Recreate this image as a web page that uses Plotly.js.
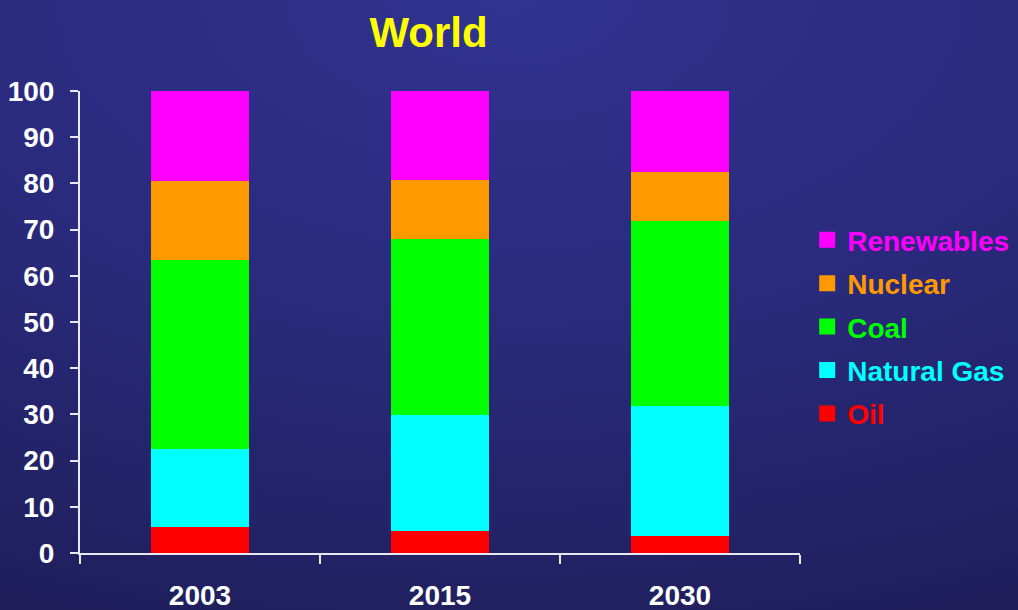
<!DOCTYPE html>
<html>
<head>
<meta charset="utf-8">
<script src="https://cdn.plot.ly/plotly-3.0.1.min.js"></script>
<style>
html, body { margin:0; padding:0; width:1018px; height:610px; overflow:hidden;
  background: radial-gradient(ellipse 120% 110% at 50% 0%, #30338f 0%, #2a2b7e 45%, #1f1e5a 100%); }
#chart { width:1018px; height:610px; }
</style>
</head>
<body>
<div id="chart"></div>
<script>
const years = ['2003', '2015', '2030'];
const oil = [6, 5.1, 4.2];
const naturalGas = [17, 25.3, 28.1];
const coal = [40.9, 37.9, 40];
const nuclear = [17, 12.9, 10.7];
const renewables = [19.1, 18.8, 17];

const seriesNames = ['Oil', 'Natural Gas', 'Coal', 'Nuclear', 'Renewables'];
const seriesValues = [oil, naturalGas, coal, nuclear, renewables];
const seriesColors = ['#ff0000', '#00ffff', '#00ff00', '#ff9900', '#ff00ff'];

const traces = seriesNames.map((n, i) => ({
  type: 'bar',
  x: years,
  y: seriesValues[i],
  name: '<span style="color:' + seriesColors[i] + '">' + n + '</span>',
  legendgroup: 'g' + i,
  legendrank: seriesNames.length - i,
  marker: { color: seriesColors[i], line: { width: 4, color: seriesColors[i] } },
  hoverinfo: 'x+y'
}));

const layout = {
  width: 1018, height: 610,
  paper_bgcolor: 'rgba(0,0,0,0)',
  plot_bgcolor: 'rgba(0,0,0,0)',
  barmode: 'stack',
  bargap: 0.612,
  margin: { l: 80, r: 218, t: 91, b: 57, autoexpand: false },
  font: { family: 'Liberation Sans, Arial, sans-serif', color: '#ffffff' },
  title: {
    text: '<b>World</b>',
    font: { size: 42, color: '#ffff00', family: 'Liberation Sans, Arial, sans-serif' },
    x: 0.421, xref: 'container', xanchor: 'center',
    y: 0.947, yref: 'container', yanchor: 'middle'
  },
  xaxis: {
    type: 'category',
    showline: true, linecolor: '#e8e8f0', linewidth: 2,
    ticks: 'outside', tickson: 'boundaries', ticklen: 9, tickcolor: '#e8e8f0', tickwidth: 2,
    tickfont: { size: 28, color: '#ffffff' },
    tickprefix: '<b>', ticksuffix: '</b>',
    ticklabelstandoff: 16,
    showgrid: false, zeroline: false, fixedrange: true
  },
  yaxis: {
    range: [0, 100], dtick: 10, tick0: 0,
    showline: true, linecolor: '#e8e8f0', linewidth: 2,
    ticks: 'outside', ticklen: 8, tickcolor: '#e8e8f0', tickwidth: 2,
    tickfont: { size: 28, color: '#ffffff' },
    tickprefix: '<b>', ticksuffix: '</b>',
    ticklabelstandoff: 10,
    showgrid: false, zeroline: false, fixedrange: true
  },
  showlegend: true,
  legend: {
    traceorder: 'grouped',
    tracegroupgap: 4,
    x: 1.01, xanchor: 'left', y: 0.49, yanchor: 'middle',
    font: { size: 28, family: 'Liberation Sans, Arial, sans-serif', weight: 'bold' },
    bgcolor: 'rgba(0,0,0,0)', itemwidth: 30
  }
};

Plotly.newPlot('chart', traces, layout, { displayModeBar: false, staticPlot: true });
</script>
</body>
</html>
